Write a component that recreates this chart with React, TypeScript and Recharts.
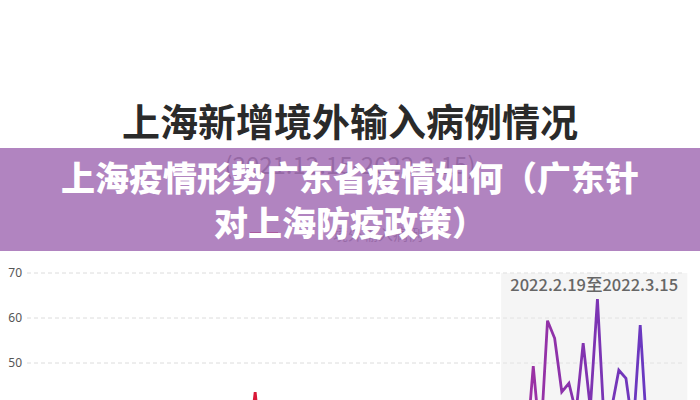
import React from "react";
import {
  CartesianGrid,
  Line,
  LineChart,
  ReferenceArea,
  XAxis,
  YAxis,
} from "recharts";

// daily new imported cases, one array per month (2021.12.15 - 2022.3.15)
const dec2021 = [12, 18, 9, 15, 22, 14, 20, 11, 25, 17, 13, 19, 24, 16, 21, 10, 18];
const jan2022 = [
  15, 22, 28, 19, 24, 13, 26, 31, 20, 17, 29, 23, 30, 43.5, 28, 21, 27, 18, 25,
  32, 16, 23, 29, 20, 26, 14, 30, 22, 19, 27, 24,
];
const feb2022 = [
  21, 33, 26, 18, 29, 35, 24, 31, 19, 27, 36, 22, 30, 25, 34, 28, 37, 23, 33, 38,
  30, 49.3, 32, 59.4, 55.5, 43.6, 45.5, 39,
];
const mar2022 = [54.4, 40, 64.2, 35, 40, 48.4, 46.6, 35, 58.4, 33, 28, 35, 26, 31, 24];

// only the upper ticks are inside the frame
const yTicks = [50, 60, 70];
const highlightLabel = "2022.2.19至2022.3.15";

const cases = [...dec2021, ...jan2022, ...feb2022, ...mar2022];
const chartData = cases.map((value, day) => ({ day, value }));

const cjk = '"Noto Sans CJK SC", "Noto Sans", sans-serif';

export default function App() {
  return (
    <div
      style={{
        position: "absolute",
        left: 0,
        top: 0,
        width: 700,
        height: 400,
        overflow: "hidden",
        background: "#fff",
        fontFamily: cjk,
      }}
    >
      <div
        style={{
          position: "absolute",
          top: 101,
          width: 700,
          textAlign: "center",
          fontSize: 38,
          lineHeight: "38px",
          fontWeight: 700,
          color: "#2a2a2a",
        }}
      >
        上海新增境外输入病例情况
      </div>
      <div
        style={{
          position: "absolute",
          top: 152,
          width: 700,
          textAlign: "center",
          fontSize: 24,
          lineHeight: "24px",
          color: "#666",
        }}
      >
        (2021.12.15-2022.3.15)
      </div>
      <div style={{ position: "absolute", top: 223, left: 250, display: "flex", alignItems: "center" }}>
        <span style={{ width: 28, height: 3, background: "#d61a3c", marginRight: 55 }} />
        <span style={{ fontSize: 15, color: "#777" }}>境外输入病例</span>
      </div>

      <div style={{ position: "absolute", top: 258, left: 0 }}>
        <LineChart
          width={700}
          height={345}
          data={chartData}
          margin={{ top: 15, right: 17, bottom: 15, left: 0 }}
        >
          <defs>
            <linearGradient id="caseStroke" x1="0" y1="0" x2="1" y2="0">
              <stop offset="0" stopColor="#e2142a" />
              <stop offset="0.45" stopColor="#d61a3c" />
              <stop offset="0.72" stopColor="#a8309e" />
              <stop offset="0.85" stopColor="#8033b0" />
              <stop offset="1" stopColor="#5a3ccc" />
            </linearGradient>
          </defs>
          <CartesianGrid vertical={false} stroke="#dcdcdc" strokeDasharray="4 3" />
          <XAxis dataKey="day" type="number" domain={[-2, 90]} hide />
          <YAxis
            width={27}
            domain={[0, 70]}
            ticks={yTicks}
            axisLine={false}
            tickLine={false}
            tickSize={3}
            tickMargin={2}
            tick={{ fontSize: 12, fill: "#555", fontFamily: "Noto Sans" }}
          />
          <ReferenceArea
            x1={64.5}
            x2={90.6}
            ifOverflow="visible"
            fill="#e8e8e8"
            fillOpacity={0.45}
            stroke="none"
            label={{
              value: highlightLabel,
              position: "insideTop",
              offset: 6,
              fill: "#666",
              fontSize: 16.5,
              fontWeight: 500,
              fontFamily: cjk,
            }}
          />
          <Line
            type="linear"
            dataKey="value"
            stroke="url(#caseStroke)"
            strokeWidth={2.8}
            dot={false}
            isAnimationActive={false}
          />
        </LineChart>
      </div>

      <div
        style={{
          position: "absolute",
          top: 148,
          left: 0,
          width: 700,
          height: 103,
          background: "rgba(160,105,178,0.82)",
          color: "#fff",
          fontWeight: 900,
          fontSize: 34,
          textAlign: "center",
        }}
      >
        <div style={{ position: "absolute", top: 11, width: 700, lineHeight: "36px" }}>
          上海疫情形势广东省疫情如何（广东针
        </div>
        <div style={{ position: "absolute", top: 56, width: 700, lineHeight: "36px" }}>
          对上海防疫政策）
        </div>
      </div>
    </div>
  );
}
